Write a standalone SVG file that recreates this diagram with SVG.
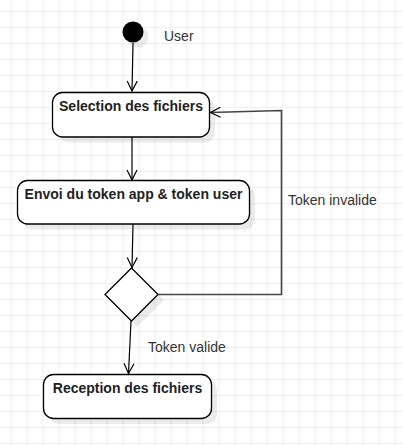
<svg xmlns="http://www.w3.org/2000/svg" width="403" height="446" viewBox="0 0 403 446">
<defs>
<pattern id="grid" x="10.3" y="11" width="16" height="16" patternUnits="userSpaceOnUse">
<path d="M0.5 0 V16 M0 0.5 H16" fill="none" stroke="#efefef" stroke-width="1"/>
</pattern>
<marker id="arr" viewBox="0 0 12 12" refX="11" refY="6" markerWidth="12" markerHeight="12" markerUnits="userSpaceOnUse" orient="auto">
<path d="M1 1 L11 6 L1 11" fill="none" stroke="#000" stroke-width="1.2"/>
</marker>
</defs>
<style>
.act{fill:#fff;stroke:#000;stroke-width:1.3}
.shd{fill:#000;opacity:0.08}
.lbl{font-family:"Liberation Sans",Arial,sans-serif;font-size:14px;font-weight:bold;fill:#222;text-anchor:middle}
.txt{font-family:"Liberation Sans",Arial,sans-serif;font-size:14px;fill:#333}
.edge{fill:none;stroke:#000;stroke-width:1.2}
.edge2{fill:none;stroke:#444;stroke-width:1.6}
</style>
<rect width="403" height="446" fill="#fff"/>
<rect width="403" height="446" fill="url(#grid)"/>

<g id="start">
<circle cx="138" cy="37" r="10.5" class="shd"/>
<circle cx="133" cy="32" r="10.5" fill="#000"/>
</g>
<text class="txt" x="164" y="41">User</text>

<g id="selection">
<rect x="58" y="98" width="157" height="44.5" rx="10" class="shd"/>
<rect x="52.5" y="92.5" width="157" height="44.5" rx="10" class="act"/>
<text class="lbl" x="131" y="111">Selection des fichiers</text>
</g>

<g id="envoi">
<rect x="23" y="186" width="232" height="43.5" rx="10" class="shd"/>
<rect x="17.5" y="180.5" width="232" height="43.5" rx="10" class="act"/>
<text class="lbl" x="133.5" y="199">Envoi du token app &amp; token user</text>
</g>

<g id="decision">
<polygon points="137,273 164,300 137,327 111,300" class="shd"/>
<polygon points="131.5,268 158,294.5 131.5,321 105,294.5" class="act"/>
</g>

<g id="reception">
<rect x="49" y="380" width="168" height="44" rx="10" class="shd"/>
<rect x="43.5" y="374.5" width="168" height="44" rx="10" class="act"/>
<text class="lbl" x="127.5" y="393">Reception des fichiers</text>
</g>

<g id="connectors">
<path d="M133 43 L132 91" class="edge" marker-end="url(#arr)"/>
<path d="M132 137 L132 180" class="edge" marker-end="url(#arr)"/>
<path d="M133 224 L132 267.5" class="edge" marker-end="url(#arr)"/>
<path d="M131 321 L128.5 373.5" class="edge" marker-end="url(#arr)"/>
<path d="M158 294.5 H281.5 V110.5 L210.5 112.5" class="edge2" marker-end="url(#arr)"/>
</g>
<text class="txt" x="288" y="205">Token invalide</text>
<text class="txt" x="148" y="352">Token valide</text>
</svg>
